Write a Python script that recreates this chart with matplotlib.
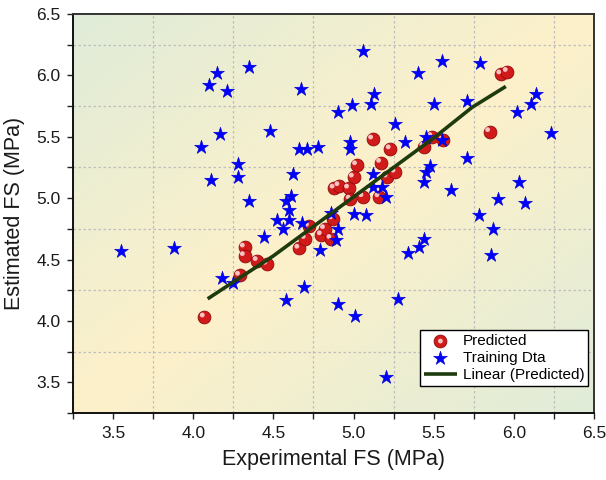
import numpy as np
import matplotlib
matplotlib.use("Agg")
import matplotlib.pyplot as plt
from matplotlib.ticker import MultipleLocator, FormatStrFormatter
from matplotlib.transforms import ScaledTranslation
from matplotlib.legend_handler import HandlerTuple

plt.rcParams['font.family'] = ['Liberation Sans', 'DejaVu Sans']

# ---------------- data ----------------
pred_x = [4.07, 4.29, 4.32, 4.32, 4.40, 4.46, 4.66, 4.70, 4.72, 4.80, 4.82, 4.86, 4.87, 4.88, 4.91, 4.97,
          4.98, 5.00, 5.02, 5.06, 5.12, 5.16, 5.17, 5.21, 5.23, 5.26, 5.44, 5.49, 5.56, 5.85, 5.92, 5.96]
pred_y = [4.03, 4.37, 4.60, 4.53, 4.49, 4.46, 4.59, 4.67, 4.77, 4.70, 4.75, 4.67, 4.83, 5.08, 5.10, 5.08,
          4.99, 5.17, 5.27, 5.01, 5.48, 5.01, 5.29, 5.17, 5.40, 5.21, 5.42, 5.50, 5.47, 5.54, 6.01, 6.03]

train_x = [3.55, 3.88, 4.05, 4.10, 4.15, 4.21, 4.17, 4.11, 4.35, 4.28, 4.28, 4.35, 4.48, 4.44, 4.52, 4.56,
           4.18, 4.25, 4.58, 4.69, 4.67, 4.66, 4.71, 4.78, 4.62, 4.58, 4.61, 4.60, 4.60, 4.68, 4.79, 4.86,
           4.89, 4.90, 4.90, 4.90, 4.99, 4.98, 4.98, 5.06, 5.00, 5.01, 5.08, 5.11, 5.13, 5.12, 5.12, 5.18,
           5.20, 5.26, 5.32, 5.28, 5.20, 5.34, 5.41, 5.44, 5.40, 5.50, 5.45, 5.55, 5.44, 5.45, 5.48, 5.55,
           5.61, 5.71, 5.71, 5.79, 5.78, 5.87, 5.86, 5.90, 6.02, 6.03, 6.07, 6.11, 6.14, 6.23]
train_y = [4.57, 4.59, 5.42, 5.92, 6.02, 5.87, 5.52, 5.15, 6.07, 5.28, 5.17, 4.98, 5.55, 4.68, 4.82, 4.75,
           4.35, 4.31, 4.17, 4.28, 5.89, 5.40, 5.40, 5.42, 5.20, 4.98, 5.02, 4.90, 4.82, 4.80, 4.58, 4.88,
           4.66, 4.75, 4.14, 5.70, 5.76, 5.46, 5.40, 6.20, 4.87, 4.04, 4.86, 5.77, 5.85, 5.20, 5.09, 5.09,
           5.01, 5.60, 5.46, 4.18, 3.54, 4.55, 4.60, 4.67, 6.02, 5.77, 5.50, 5.47, 5.13, 5.21, 5.26, 6.12,
           5.07, 5.79, 5.33, 6.10, 4.86, 4.75, 4.54, 4.99, 5.70, 5.13, 4.96, 5.77, 5.85, 5.53]

trend_x = [4.09, 4.5, 5.0, 5.5, 5.74, 5.95]
trend_y = [4.18, 4.53, 5.01, 5.49, 5.74, 5.91]

x_ticks = [3.5, 4.0, 4.5, 5.0, 5.5, 6.0, 6.5]
y_ticks = [3.5, 4.0, 4.5, 5.0, 5.5, 6.0, 6.5]

# ---------------- figure ----------------
fig = plt.figure(figsize=(6.06, 4.80), dpi=100)
ax = fig.add_axes([73/606, 1-413/480, (594-73)/606, (413-14)/480])

# gradient background
green = np.array([0.878, 0.925, 0.851])
yellow = np.array([0.992, 0.945, 0.792])
n = 300
xx, yy = np.meshgrid(np.linspace(0, 1, n), np.linspace(1, 0, n))
t = np.abs(xx - yy)
img = yellow[None, None, :] * (1 - t[..., None]) + green[None, None, :] * t[..., None]
ax.imshow(img, extent=[0, 1, 0, 1], transform=ax.transAxes, aspect='auto', zorder=0, interpolation='bilinear')

# predicted balls
balls = ax.scatter(pred_x, pred_y, s=85, c='#d11a1a', edgecolors='#8e0c0c', linewidths=0.6, zorder=3)
hl_tr = ax.transData + ScaledTranslation(-1.6/72, 1.6/72, fig.dpi_scale_trans)
hl = ax.scatter(pred_x, pred_y, s=12, c='#ffd6d6', edgecolors='none', alpha=0.9, zorder=3.1, transform=hl_tr)

stars = ax.scatter(train_x, train_y, s=110, marker='*', c='#0000ff', edgecolors='#0000d0', linewidths=0.4, zorder=4)

line, = ax.plot(trend_x, trend_y, color='#1e3b0e', lw=2.6, zorder=5, solid_capstyle='butt')

ax.set_xlim(3.25, 6.5)
ax.set_ylim(3.25, 6.5)
ax.set_xticks(x_ticks)
ax.set_yticks(y_ticks)
ax.xaxis.set_major_formatter(FormatStrFormatter('%.1f'))
ax.yaxis.set_major_formatter(FormatStrFormatter('%.1f'))
ax.xaxis.set_minor_locator(MultipleLocator(0.25))
ax.yaxis.set_minor_locator(MultipleLocator(0.25))
ax.tick_params(which='both', direction='out', length=4, width=1.0, color='#222222')
ax.tick_params(which='major', labelsize=12.5, pad=5, labelcolor='#1a1a1a')
ax.grid(which='minor', color='#bdbdbd', linestyle=(0, (2, 2)), linewidth=0.9, zorder=1)
ax.grid(which='major', visible=False)
ax.set_axisbelow(True)

for sp in ax.spines.values():
    sp.set_linewidth(1.4)
    sp.set_color('#333333')
    sp.set_zorder(6)
ax.spines['left'].set_color('#111111')
ax.spines['bottom'].set_color('#111111')

ax.set_xlabel('Experimental FS (MPa)', fontsize=15.5, labelpad=6, color='#1a1a1a')
ax.set_ylabel('Estimated FS (MPa)', fontsize=15.5, labelpad=8, color='#1a1a1a')

leg = ax.legend([(balls, hl), stars, line], ['Predicted', 'Training Dta', 'Linear (Predicted)'],
                handler_map={tuple: HandlerTuple(ndivide=1)},
                loc='lower right', bbox_to_anchor=(0.9885, 0.0677), borderaxespad=0,
                fontsize=11, frameon=True, fancybox=False, edgecolor='black', framealpha=1,
                handlelength=2.2, handletextpad=0.35, labelspacing=0.2, borderpad=0.25,
                scatterpoints=1)
leg.get_frame().set_linewidth(1.0)
leg.set_zorder(10)

fig.savefig('out.png', dpi=100)
